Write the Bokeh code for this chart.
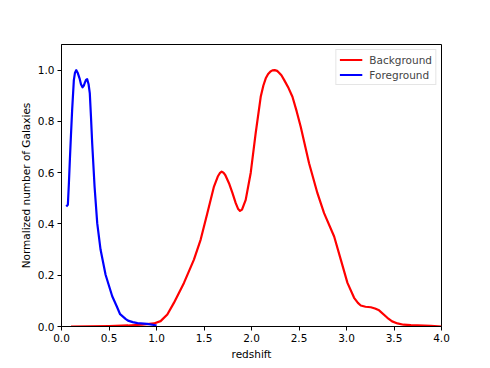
from bokeh.plotting import figure
from bokeh.models import Range1d, PrintfTickFormatter, FixedTicker, Legend, LegendItem
from bokeh.embed import file_html
from bokeh.resources import INLINE

# Foreground galaxies (blue)
fg_z = [0.05, 0.067, 0.078, 0.088, 0.10, 0.112, 0.13, 0.142, 0.155, 0.17, 0.19,
        0.205, 0.221, 0.235, 0.246, 0.258, 0.27, 0.285, 0.298, 0.31, 0.323,
        0.348, 0.376, 0.411, 0.464, 0.534, 0.58, 0.617, 0.674, 0.70, 0.75,
        0.80, 0.90, 0.99, 1.0]
fg_n = [0.468, 0.475, 0.56, 0.65, 0.75, 0.844, 0.961, 0.99, 1.0, 0.99, 0.968,
        0.945, 0.933, 0.94, 0.951, 0.962, 0.965, 0.945, 0.909, 0.82, 0.715,
        0.546, 0.403, 0.30, 0.202, 0.118, 0.08, 0.048, 0.03, 0.023, 0.017,
        0.013, 0.010, 0.005, 0.003]

# Background galaxies (red)
bg_z = [0.1, 0.3, 0.5, 0.7, 0.85, 0.973, 1.043, 1.114, 1.183, 1.289, 1.394,
        1.465, 1.535, 1.605, 1.645, 1.666, 1.686, 1.705, 1.725, 1.763, 1.80,
        1.834, 1.86, 1.879, 1.90, 1.939, 1.992, 2.044, 2.097, 2.125, 2.15, 2.175,
        2.2, 2.22, 2.244, 2.27, 2.29, 2.315, 2.343, 2.39, 2.431, 2.475,
        2.518, 2.606, 2.694, 2.764, 2.87, 2.94, 3.01, 3.08, 3.12, 3.15, 3.2,
        3.256, 3.30, 3.343, 3.43, 3.48, 3.537, 3.6, 3.677, 3.888, 4.0]
bg_n = [0.0, 0.001, 0.002, 0.004, 0.007, 0.012, 0.021, 0.047, 0.092, 0.17, 0.261,
        0.339, 0.442, 0.546, 0.585, 0.598, 0.604, 0.600, 0.59, 0.559, 0.52,
        0.481, 0.458, 0.451, 0.456, 0.494, 0.6, 0.754, 0.896, 0.94, 0.968, 0.985,
        0.995, 0.999, 1.0, 0.997, 0.99, 0.98, 0.962, 0.93, 0.896, 0.84,
        0.779, 0.637, 0.52, 0.442, 0.351, 0.261, 0.17, 0.112, 0.092, 0.082, 0.077,
        0.075, 0.07, 0.063, 0.034, 0.02, 0.012, 0.007, 0.005, 0.003, 0.0]

x_ticks = [0.0, 0.5, 1.0, 1.5, 2.0, 2.5, 3.0, 3.5, 4.0]
y_ticks = [0.0, 0.2, 0.4, 0.6, 0.8, 1.0]

FONT = "DejaVu Sans"
FS = "10.5px"

p = figure(width=482, height=362, output_backend="svg", toolbar_location=None,
           x_range=Range1d(0, 4), y_range=Range1d(0, 1.1),
           min_border_left=61, min_border_right=41, min_border_top=44,
           min_border_bottom=35)

p.background_fill_color = "white"
p.border_fill_color = "white"
p.outline_line_color = "black"
p.outline_line_width = 1
p.xgrid.visible = False
p.ygrid.visible = False

r_bg = p.line(bg_z, bg_n, line_color="#ff0000", line_width=2.2, line_join="round")
r_fg = p.line(fg_z, fg_n, line_color="#0000ff", line_width=2.2, line_join="round")

for ax, ticks in ((p.xaxis[0], x_ticks), (p.yaxis[0], y_ticks)):
    ax.ticker = FixedTicker(ticks=ticks)
    ax.formatter = PrintfTickFormatter(format="%.1f")
    ax.minor_tick_line_color = None
    ax.major_tick_in = 0
    ax.major_tick_out = 4
    ax.major_tick_line_color = "black"
    ax.axis_line_color = "black"
    ax.major_label_text_font = FONT
    ax.major_label_text_font_size = FS
    ax.major_label_text_color = "black"
    ax.axis_label_text_font = FONT
    ax.axis_label_text_font_size = FS
    ax.axis_label_text_font_style = "normal"
    ax.axis_label_text_color = "black"
    ax.major_label_standoff = 3
    ax.axis_label_standoff = 3

p.xaxis.axis_label = "redshift"
p.yaxis.axis_label = "Normalized number of Galaxies"

legend = Legend(items=[LegendItem(label="Background", renderers=[r_bg]),
                       LegendItem(label="Foreground", renderers=[r_fg])],
                location="top_right")
legend.margin = 5
legend.padding = 3
legend.spacing = 2
legend.label_height = 13
legend.glyph_height = 13
legend.glyph_width = 23
legend.label_standoff = 7
legend.label_text_font = FONT
legend.label_text_font_size = FS
legend.border_line_color = "#cccccc"
legend.border_line_width = 1
legend.background_fill_alpha = 0.8
p.add_layout(legend)

open("out.html", "w").write(file_html(p, INLINE))
